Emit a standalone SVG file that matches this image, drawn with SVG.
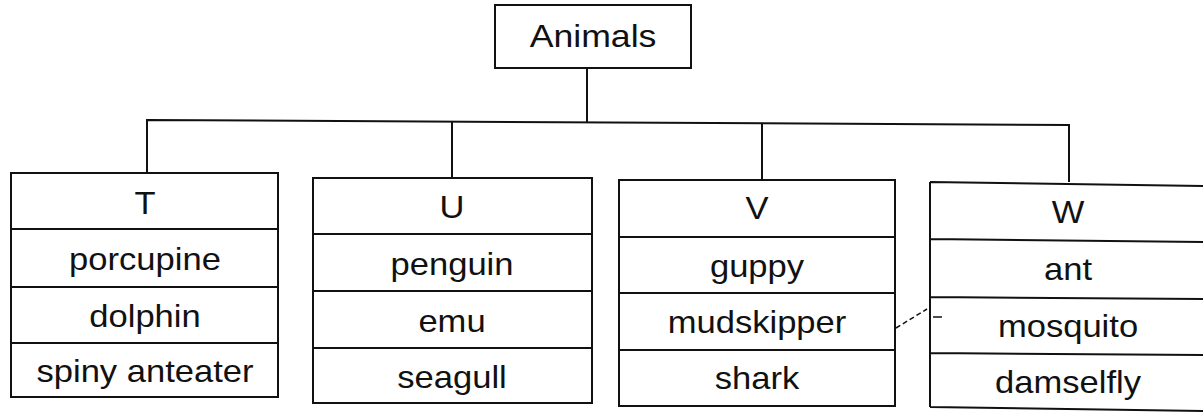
<svg xmlns="http://www.w3.org/2000/svg" width="1203" height="412" viewBox="0 0 1203 412">
<style>
.b{fill:none;stroke:#111;stroke-width:2}
.c{fill:none;stroke:#111;stroke-width:2}
.t{font-family:"Liberation Sans",Arial,sans-serif;font-size:32px;fill:#111;text-anchor:middle}
</style>
<rect width="1203" height="412" fill="#fff"/>
<g id="connectors">
<path class="c" d="M147,173 L147,120 L1069,125 L1069,182"/>
<path class="c" d="M452,178 L452,121.6"/>
<path class="c" d="M762,180 L762,123.3"/>
<path class="c" d="M587,68 L587,122.4"/>
<path fill="none" stroke="#111" stroke-width="1.5" stroke-dasharray="5,3" d="M896,328 L927,309"/>
<path fill="none" stroke="#111" stroke-width="1.5" d="M933,317 L942,317"/>
</g>
<g id="animals">
<rect class="b" x="495" y="5" width="196" height="63"/>
<text class="t" transform="translate(593,47) scale(1.15,1)" style="font-size:31px">Animals</text>
</g>
<g id="T">
<rect class="b" x="11" y="173" width="267" height="224"/>
<path class="b" d="M11,229 H278 M11,287 H278 M11,343 H278"/>
<text class="t" transform="translate(145,214) scale(1.08,1)">T</text>
<text class="t" transform="translate(145,270) scale(1.08,1)">porcupine</text>
<text class="t" transform="translate(145,327) scale(1.08,1)">dolphin</text>
<text class="t" transform="translate(145,382) scale(1.08,1)">spiny anteater</text>
</g>
<g id="U">
<rect class="b" x="313" y="178" width="279" height="225"/>
<path class="b" d="M313,234 H592 M313,291 H592 M313,348 H592"/>
<text class="t" transform="translate(452,218) scale(1.08,1)">U</text>
<text class="t" transform="translate(452,275) scale(1.08,1)">penguin</text>
<text class="t" transform="translate(452,332) scale(1.08,1)">emu</text>
<text class="t" transform="translate(452,388) scale(1.08,1)">seagull</text>
</g>
<g id="V">
<rect class="b" x="619" y="180" width="276" height="226"/>
<path class="b" d="M619,237 H895 M619,293 H895 M619,350 H895"/>
<text class="t" transform="translate(757,219) scale(1.08,1)">V</text>
<text class="t" transform="translate(757,277) scale(1.08,1)">guppy</text>
<text class="t" transform="translate(757,333) scale(1.08,1)">mudskipper</text>
<text class="t" transform="translate(757,389) scale(1.08,1)">shark</text>
</g>
<g id="W">
<path class="b" d="M930,182 L930,407 M930,182 L1203,186 M930,239 L1203,242 M930,297 L1203,299 M930,353 L1203,355 M930,407 L1203,411"/>
<text class="t" transform="translate(1068,223) scale(1.08,1)">W</text>
<text class="t" transform="translate(1068,280) scale(1.08,1)">ant</text>
<text class="t" transform="translate(1068,337) scale(1.08,1)">mosquito</text>
<text class="t" transform="translate(1068,393) scale(1.08,1)">damselfly</text>
</g>
</svg>
